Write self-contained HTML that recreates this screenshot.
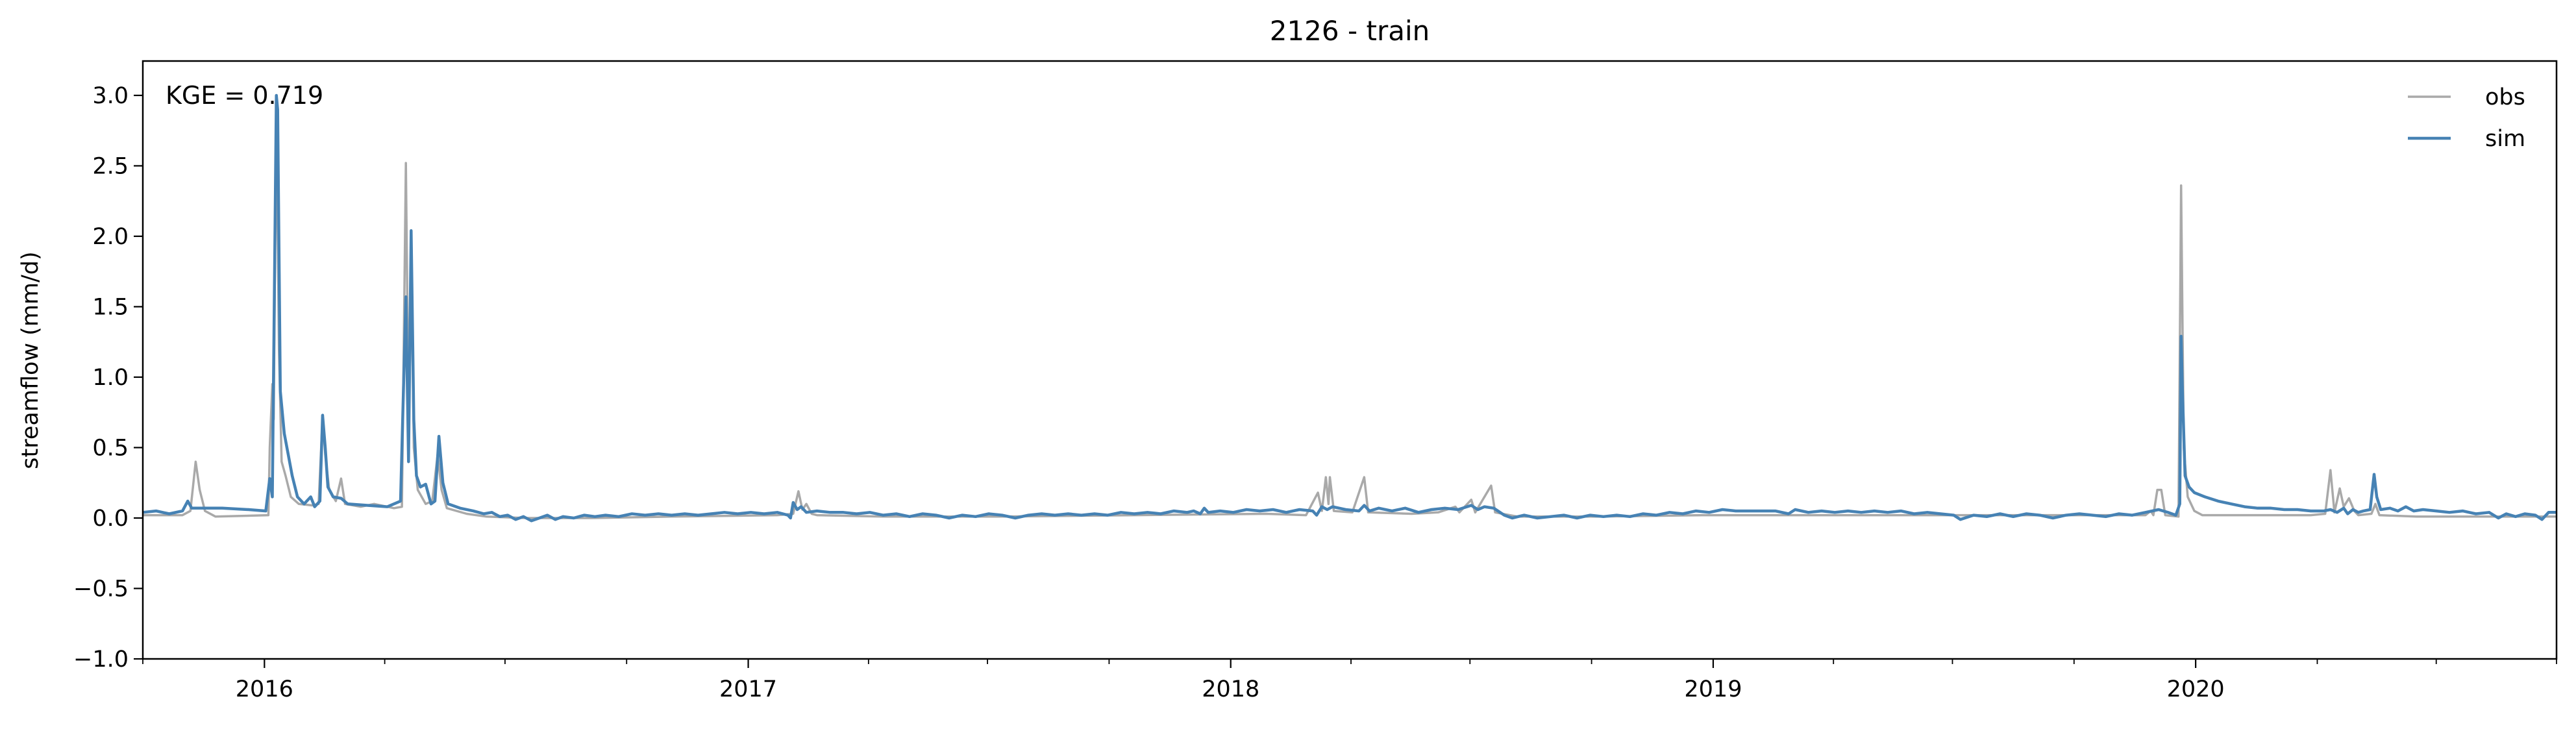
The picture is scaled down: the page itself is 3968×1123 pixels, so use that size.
<!DOCTYPE html>
<html><head><meta charset="utf-8"><style>
html,body{margin:0;padding:0;background:#fff}
svg text{font-family:"DejaVu Sans","Liberation Sans",sans-serif;fill:#000}
</style></head><body>
<svg id="chart" width="3968" height="1118" viewBox="0 0 3968 1118" xmlns="http://www.w3.org/2000/svg">
<rect x="0" y="0" width="3968" height="1118" fill="#fff"/>
<text x="2079" y="62" font-size="42" text-anchor="middle">2126 - train</text>
<g id="plot"></g>
</svg>
<script>
const obsDays=[0,30,36,40,43,47,55,95,96,98,99,101,103,105,108,112,118,128,133,136,138,141,146,150,153,165,175,190,196,199,201,203,205,208,214,219,223,226,230,245,260,290,340,400,480,492,496,499,502,506,510,560,650,750,850,880,889,892,895,897,898,901,915,924,927,960,980,993,996,1005,1008,1020,1023,1040,1100,1180,1300,1450,1515,1519,1521,1524,1527,1530,1540,1542,1544,1547,1552,1558,1600,1640,1651,1655,1658,1662,1665,1669,1673,1676,1686,1689,1692,1720,1826];
const obsVals=[0.02,0.02,0.05,0.40,0.2,0.05,0.01,0.02,0.5,0.95,0.7,3.0,1.2,0.4,0.3,0.15,0.1,0.09,0.1,0.72,0.45,0.2,0.12,0.28,0.1,0.08,0.1,0.07,0.08,2.52,0.7,1.9,0.5,0.2,0.1,0.12,0.45,0.2,0.07,0.03,0.01,0.0,0.0,0.01,0.02,0.03,0.19,0.06,0.1,0.03,0.02,0.01,0.01,0.02,0.03,0.02,0.18,0.05,0.29,0.1,0.29,0.05,0.04,0.29,0.04,0.03,0.04,0.08,0.04,0.13,0.04,0.23,0.04,0.01,0.01,0.02,0.02,0.02,0.02,0.05,0.02,0.2,0.2,0.02,0.01,2.36,0.5,0.15,0.05,0.02,0.02,0.02,0.03,0.34,0.04,0.21,0.08,0.14,0.05,0.02,0.03,0.1,0.02,0.01,0.01];
const simDays=[0,10,20,30,34,37,60,80,93,96,98,101,102,104,107,110,113,117,122,127,130,134,136,138,140,144,150,155,170,185,195,199,201,203,205,207,210,214,218,221,224,227,231,240,250,258,264,270,276,282,288,294,300,306,312,318,326,334,342,350,360,370,380,390,400,410,420,430,440,450,460,470,480,488,490,492,495,498,502,510,520,530,540,550,560,570,580,590,600,610,620,630,640,650,660,670,680,690,700,710,720,730,740,750,760,770,780,790,795,800,803,806,815,825,835,845,855,865,875,885,888,892,896,900,910,920,924,928,935,945,955,965,975,985,995,1005,1010,1015,1022,1030,1036,1045,1055,1065,1075,1085,1095,1105,1115,1125,1135,1145,1155,1165,1175,1185,1195,1205,1215,1225,1235,1245,1250,1260,1270,1280,1290,1300,1310,1320,1330,1340,1350,1360,1370,1375,1385,1395,1405,1415,1425,1435,1445,1455,1465,1475,1485,1495,1505,1515,1525,1532,1538,1541,1542,1543,1545,1548,1552,1560,1570,1580,1590,1600,1610,1620,1630,1640,1650,1655,1660,1665,1668,1672,1676,1680,1685,1688,1690,1693,1700,1706,1712,1718,1725,1735,1745,1755,1765,1775,1782,1788,1795,1802,1810,1815,1820,1826];
const simVals=[0.04,0.05,0.03,0.05,0.12,0.07,0.07,0.06,0.05,0.28,0.15,3.0,2.9,0.9,0.6,0.45,0.3,0.15,0.1,0.15,0.08,0.12,0.73,0.5,0.22,0.15,0.14,0.1,0.09,0.08,0.12,1.57,0.4,2.04,0.7,0.3,0.22,0.24,0.1,0.12,0.58,0.25,0.1,0.07,0.05,0.03,0.04,0.01,0.02,-0.01,0.01,-0.02,0.0,0.02,-0.01,0.01,0.0,0.02,0.01,0.02,0.01,0.03,0.02,0.03,0.02,0.03,0.02,0.03,0.04,0.03,0.04,0.03,0.04,0.02,0.0,0.11,0.06,0.08,0.04,0.05,0.04,0.04,0.03,0.04,0.02,0.03,0.01,0.03,0.02,0.0,0.02,0.01,0.03,0.02,0.0,0.02,0.03,0.02,0.03,0.02,0.03,0.02,0.04,0.03,0.04,0.03,0.05,0.04,0.05,0.03,0.07,0.04,0.05,0.04,0.06,0.05,0.06,0.04,0.06,0.05,0.02,0.08,0.06,0.08,0.06,0.05,0.09,0.05,0.07,0.05,0.07,0.04,0.06,0.07,0.06,0.09,0.06,0.08,0.07,0.02,0.0,0.02,0.0,0.01,0.02,0.0,0.02,0.01,0.02,0.01,0.03,0.02,0.04,0.03,0.05,0.04,0.06,0.05,0.05,0.05,0.05,0.03,0.06,0.04,0.05,0.04,0.05,0.04,0.05,0.04,0.05,0.03,0.04,0.03,0.02,-0.01,0.02,0.01,0.03,0.01,0.03,0.02,0.0,0.02,0.03,0.02,0.01,0.03,0.02,0.04,0.06,0.04,0.02,0.1,1.29,0.9,0.3,0.22,0.18,0.15,0.12,0.1,0.08,0.07,0.07,0.06,0.06,0.05,0.05,0.06,0.04,0.07,0.03,0.06,0.04,0.05,0.06,0.31,0.15,0.06,0.07,0.05,0.08,0.05,0.06,0.05,0.04,0.05,0.03,0.04,0.0,0.03,0.01,0.03,0.02,-0.01,0.04,0.04];
const yTicks=[-1.0,-0.5,0.0,0.5,1.0,1.5,2.0,2.5,3.0];
const yearLabels=["2016","2017","2018","2019","2020"];
const yearDays=[92,458,823,1188,1553];
const quarterDays=[0,183,274,366,549,639,731,914,1004,1096,1279,1369,1461,1645,1735,1826];

const L=220,R=3938,T=94,B=1015,D0=0,D1=1826,Y0=-1,Y1=3.244;
const sx=d=>L+(d-D0)/(D1-D0)*(R-L);
const sy=v=>B-(v-Y0)/(Y1-Y0)*(B-T);
const NS="http://www.w3.org/2000/svg";
const g=document.getElementById('plot');
function mk(tag,attrs){const e=document.createElementNS(NS,tag);for(const k in attrs)e.setAttribute(k,attrs[k]);g.appendChild(e);return e;}

function series(days,vals,color,w,name){
  const p=mk('polyline',{points:days.map((d,i)=>sx(d).toFixed(1)+','+sy(vals[i]).toFixed(1)).join(' '),fill:'none',stroke:color,'stroke-width':w,'stroke-linejoin':'round'});
  
  
}
series(obsDays,obsVals,'#a9a9a9',3.5,'obs-line');
series(simDays,simVals,'#4682b4',4.5,'sim-line');

const frame=mk('rect',{x:L,y:T,width:R-L,height:B-T,fill:'none',stroke:'#000','stroke-width':2.5});



yTicks.forEach(v=>{
  const y=sy(v);
  const t=mk('line',{x1:L-14,x2:L,y1:y,y2:y,stroke:'#000','stroke-width':2.2});
  
  
  const tx=mk('text',{x:L-22,y:y+12,'font-size':35,'text-anchor':'end'});
  tx.textContent=(v<0?'\u2212':'')+Math.abs(v).toFixed(1);
  
  
});
quarterDays.forEach(d=>{
  const x=sx(d);
  const t=mk('line',{x1:x,x2:x,y1:B,y2:B+8,stroke:'#000','stroke-width':1.8});
  
  
});
yearDays.forEach((d,i)=>{
  const x=sx(d);
  const t=mk('line',{x1:x,x2:x,y1:B,y2:B+14,stroke:'#000','stroke-width':2.2});
  
  
  const tx=mk('text',{x:x,y:B+58,'font-size':35,'text-anchor':'middle'});
  tx.textContent=yearLabels[i];
  
  
});

const yl=mk('text',{x:0,y:0,'font-size':35,'text-anchor':'middle',transform:'translate(58,555) rotate(-90)'});
yl.textContent='streamflow (mm/d)';



const kge=mk('text',{x:255,y:160,'font-size':38});
kge.textContent='KGE = 0.719';



[['obs','#a9a9a9',3.5,149],['sim','#4682b4',4.5,213]].forEach(([lab,c,w,y])=>{
  const ln=mk('line',{x1:3709,x2:3775,y1:y,y2:y,stroke:c,'stroke-width':w});
  
  
  const tx=mk('text',{x:3828,y:y+12,'font-size':35});
  tx.textContent=lab;
  
  
});
</script>
</body></html>
